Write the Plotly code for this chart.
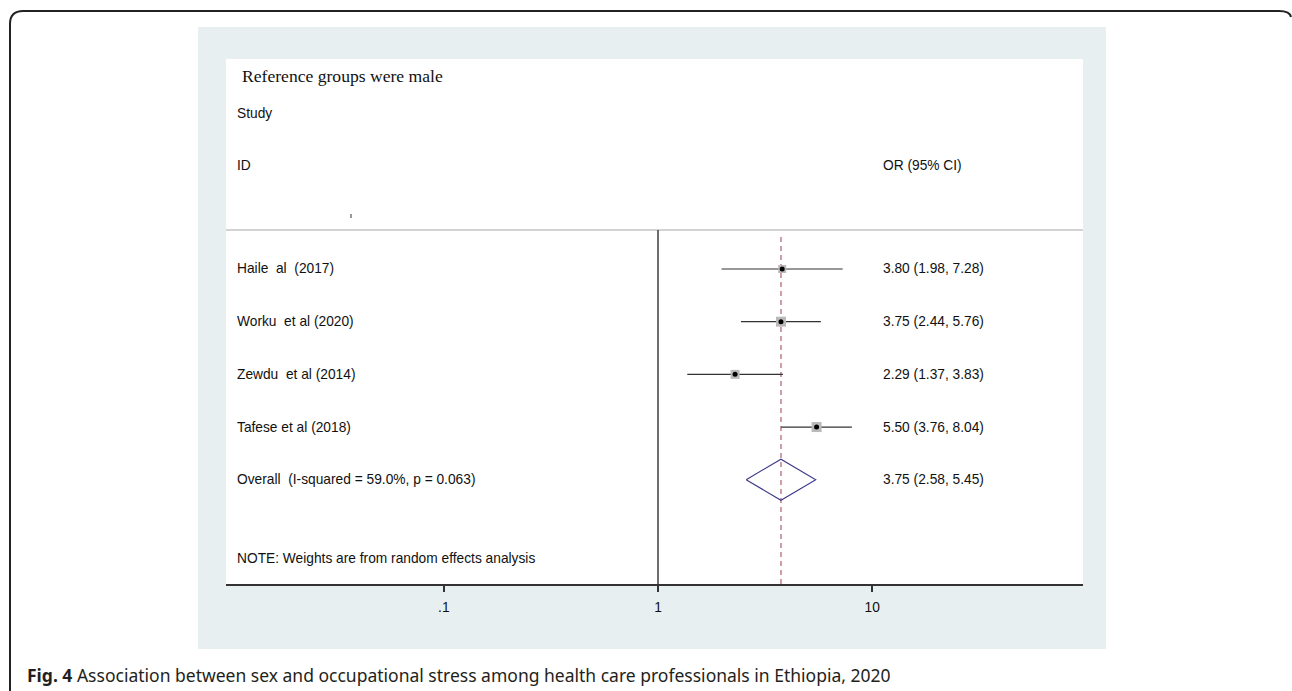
import plotly.graph_objects as go

# ---- data ----
studies = ["Haile\u00a0\u00a0al\u00a0\u00a0(2017)", "Worku\u00a0\u00a0et al (2020)",
           "Zewdu\u00a0\u00a0et al (2014)", "Tafese et al (2018)"]
odds_ratio = [3.80, 3.75, 2.29, 5.50]
ci_low = [1.98, 2.44, 1.37, 3.76]
ci_high = [7.28, 5.76, 3.83, 8.04]

overall_label = "Overall\u00a0\u00a0(I-squared = 59.0%, p = 0.063)"
overall_or = 3.75
overall_low = 2.58
overall_high = 5.45

x_ticks = [0.1, 1, 10]
x_tick_labels = [".1", "1", "10"]

# ---- styling ----
W, H = 1292, 691
box_sizes = [8, 10, 9, 10]        # weight squares (px)
diamond_half_height = 0.39        # in row units
rows = list(range(1, len(studies) + 1))
overall_row = len(studies) + 1

SANS = "Liberation Sans, Arial, sans-serif"
SERIF = "Liberation Serif, Times New Roman, serif"
TXT = "#111111"
FS = 13.75


def px(x):
    return x / W


def py(y):
    return 1 - y / H


# plot region in pixels
left, right, top, bottom = 226, 1083, 59, 584
row1_px, row_step = 269, 52.68
r_top = 1 + (top - row1_px) / row_step
r_bot = 1 + (bottom - row1_px) / row_step
one_px, decade = 658, 214.2
log_lo = (left - one_px) / decade
log_hi = (right - one_px) / decade

fig = go.Figure()

# confidence interval lines
ci_x, ci_y = [], []
for lo, hi, r in zip(ci_low, ci_high, rows):
    ci_x += [lo, hi, None]
    ci_y += [r, r, None]
fig.add_trace(go.Scatter(x=ci_x, y=ci_y, mode="lines",
                         line=dict(color="#333333", width=1.2),
                         hoverinfo="skip"))

# weight boxes
fig.add_trace(go.Scatter(x=odds_ratio, y=rows, mode="markers",
                         marker=dict(symbol="square", size=box_sizes,
                                     color="#bababa", opacity=1,
                                     line=dict(width=0))))
# point estimates
fig.add_trace(go.Scatter(x=odds_ratio, y=rows, mode="markers",
                         marker=dict(symbol="circle", size=5, color="#000000",
                                     line=dict(width=0))))

# pooled estimate diamond
fig.add_trace(go.Scatter(
    x=[overall_low, overall_or, overall_high, overall_or, overall_low],
    y=[overall_row, overall_row - diamond_half_height, overall_row,
       overall_row + diamond_half_height, overall_row],
    mode="lines", line=dict(color="#3d3a8c", width=1.1)))

shapes = []
# outer rounded frame
frame = (f"M {px(10)},{py(691)} L {px(10)},{py(24)} "
         f"Q {px(10)},{py(11)} {px(23)},{py(11)} "
         f"L {px(1279)},{py(11)} Q {px(1290)},{py(11)} {px(1291)},{py(17)}")
shapes.append(dict(type="path", path=frame, xref="paper", yref="paper",
                   line=dict(color="#222222", width=2), layer="below"))
# light panel
shapes.append(dict(type="rect", xref="paper", yref="paper",
                   x0=px(198), x1=px(1106), y0=py(649), y1=py(27),
                   fillcolor="#e7eff1", line=dict(width=0), layer="below"))
# white plot region
shapes.append(dict(type="rect", xref="paper", yref="paper",
                   x0=px(left), x1=px(right), y0=py(bottom), y1=py(top),
                   fillcolor="#ffffff", line=dict(width=0), layer="below"))
# header separator
shapes.append(dict(type="line", xref="paper", yref="paper",
                   x0=px(left), x1=px(right), y0=py(230), y1=py(230),
                   line=dict(color="#c4c4c4", width=1.5)))
# null line at OR = 1
shapes.append(dict(type="line", xref="x", yref="paper",
                   x0=1, x1=1, y0=py(bottom), y1=py(230),
                   line=dict(color="#4a4a4a", width=1.6)))
# overall estimate line (behind the study markers)
shapes.append(dict(type="line", xref="x", yref="paper", layer="below",
                   x0=overall_or, x1=overall_or, y0=py(bottom), y1=py(233),
                   line=dict(color="#c68e98", width=1.7, dash="5px,4px")))
# stray tick below the header
shapes.append(dict(type="line", xref="paper", yref="paper",
                   x0=px(351), x1=px(351), y0=py(218), y1=py(214),
                   line=dict(color="#333333", width=1)))
fig.update_layout(shapes=shapes)

ann = []
label_x = px(235)
ci_text_x = px(881)


def text(x, y, s, size=FS, font=SANS, yref="paper", **kw):
    ann.append(dict(x=x, y=y, xref="paper", yref=yref, text=s, showarrow=False,
                    xanchor="left", yanchor="middle",
                    font=dict(family=font, size=size, color=TXT), **kw))


text(px(240), py(76), "Reference groups were male", size=17.6, font=SERIF)
text(label_x, py(113), "Study")
text(label_x, py(165), "ID")
text(ci_text_x, py(165), "OR (95% CI)")

for name, o, lo, hi, r in zip(studies, odds_ratio, ci_low, ci_high, rows):
    text(label_x, r, name, yref="y")
    text(ci_text_x, r, f"{o:.2f} ({lo:.2f}, {hi:.2f})", yref="y")
text(label_x, overall_row, overall_label, yref="y")
text(ci_text_x, overall_row,
     f"{overall_or:.2f} ({overall_low:.2f}, {overall_high:.2f})", yref="y")
text(label_x, py(558), "NOTE: Weights are from random effects analysis")

# figure caption
ann.append(dict(x=px(25), y=py(675), xref="paper", yref="paper",
                text="<b>Fig. 4</b> Association between sex and occupational stress "
                     "among health care professionals in Ethiopia, 2020",
                showarrow=False, xanchor="left", yanchor="middle",
                font=dict(family="Noto Sans, Open Sans, sans-serif", size=17.5,
                          color="#231f20")))
fig.update_layout(annotations=ann)

fig.update_layout(
    width=W, height=H, margin=dict(l=0, r=0, t=0, b=0),
    paper_bgcolor="#ffffff", plot_bgcolor="rgba(0,0,0,0)",
    showlegend=False,
    xaxis=dict(type="log", range=[log_lo, log_hi],
               domain=[px(left), px(right)], anchor="y",
               tickvals=x_ticks, ticktext=x_tick_labels,
               ticks="outside", ticklen=6, tickwidth=1.5, tickcolor="#333333",
               showline=True, linecolor="#333333", linewidth=2,
               showgrid=False, zeroline=False, ticklabelstandoff=3,
               tickfont=dict(family=SANS, size=FS, color=TXT)),
    yaxis=dict(range=[r_bot, r_top], domain=[py(bottom), py(top)],
               showgrid=False, zeroline=False, showticklabels=False,
               showline=False, ticks=""),
)

fig.write_html("out.html")
